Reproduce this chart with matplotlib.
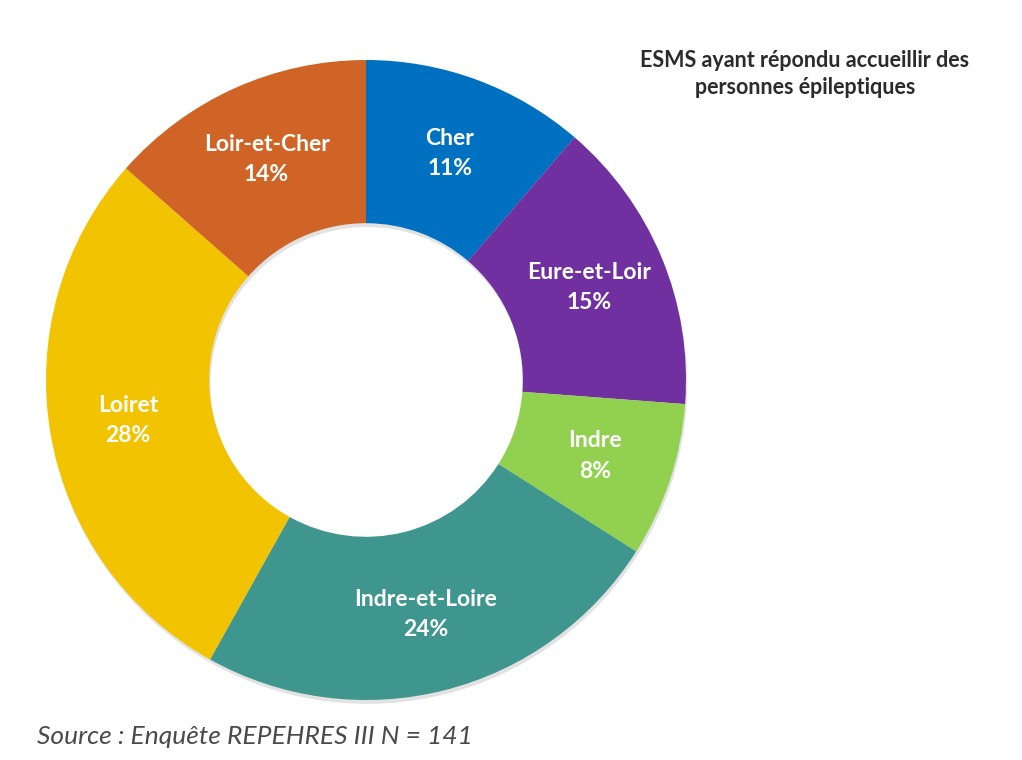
import matplotlib
matplotlib.use("Agg")
import matplotlib.pyplot as plt
import numpy as np

categories = ["Cher", "Eure-et-Loir", "Indre", "Indre-et-Loire", "Loiret", "Loir-et-Cher"]
values = [11.3, 14.9, 7.8, 24.1, 28.4, 13.5]
colors = ["#0070C0", "#7030A0", "#92D050", "#3F968F", "#F2C300", "#D06426"]
title = "ESMS ayant répondu accueillir des\npersonnes épileptiques"
source = "Source : Enquête REPEHRES III N = 141"

W, H = 1022, 760
fig = plt.figure(figsize=(W / 100, H / 100), dpi=100)
fig.patch.set_facecolor("white")

cx, cy, r = 366, 380, 320
ax = fig.add_axes([(cx - r) / W, (H - cy - r) / H, 2 * r / W, 2 * r / H])

# subtle shadow
shadow, _ = ax.pie(values, radius=1.0, startangle=90, counterclock=False,
                   colors=["#d0d0d0"] * len(values),
                   wedgeprops=dict(width=0.51, linewidth=0),
                   center=(0.004, -0.012))
for s in shadow:
    s.set_alpha(0.6)

wedges, _ = ax.pie(values, radius=1.0, startangle=90, counterclock=False,
                   colors=colors, wedgeprops=dict(width=0.51, linewidth=0))

ax.set_xlim(-1, 1)
ax.set_ylim(-1, 1)
ax.set_aspect("equal")
ax.axis("off")

for w, cat, v in zip(wedges, categories, values):
    ang = np.deg2rad((w.theta1 + w.theta2) / 2)
    rr = 0.755
    x, y = rr * np.cos(ang), rr * np.sin(ang)
    ax.text(x, y, f"{cat}\n{round(v)}%", ha="center", va="center", color="white",
            fontsize=16.5, fontweight="bold", family="Lato", linespacing=1.55)

fig.text(805 / W, 1 - 74 / H, title, ha="center", va="center", fontsize=15.5,
         fontweight="bold", family="Lato", color="#2b2b2b", linespacing=1.35)

fig.text(37 / W, 1 - 737 / H, source, ha="left", va="center", fontsize=19,
         style="italic", family="Lato", color="#4a4a4a")

fig.savefig("out.png", dpi=100, facecolor="white")
